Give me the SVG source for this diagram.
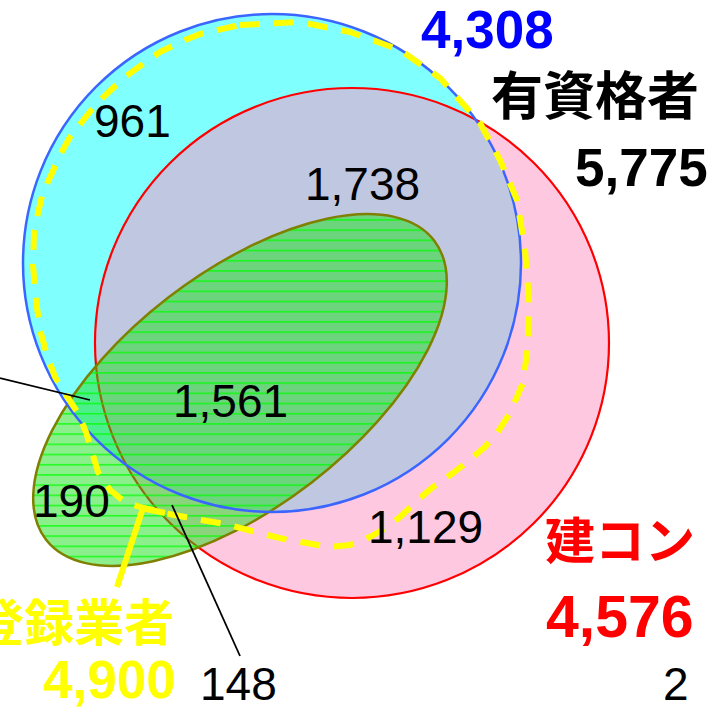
<svg xmlns="http://www.w3.org/2000/svg" width="707" height="710" viewBox="0 0 707 710">
<defs>
<style>
.num{font-family:"Liberation Sans",Arial,sans-serif;font-size:46px;fill:#000}
.bnum{font-family:"Liberation Sans",Arial,sans-serif;font-weight:bold;font-size:53px}
.cjk{font-family:"Liberation Sans","Noto Sans CJK JP",sans-serif;font-weight:bold;font-size:52px}
.lead{fill:none;stroke:#000;stroke-width:1.8}
</style>
<pattern id="stripes" patternUnits="userSpaceOnUse" x="0" y="229.3" width="20" height="10.2">
<rect x="0" y="0" width="20" height="1.6" fill="#00ff00" fill-opacity="0.75"/>
</pattern>
<clipPath id="greenClip">
<ellipse cx="240" cy="390" rx="245" ry="117" transform="rotate(-37.6 240 390)"/>
</clipPath>
</defs>
<rect width="707" height="710" fill="#ffffff"/>

<g id="yushikaku-fill">
<circle cx="272" cy="263" r="249" fill="#80ffff"/>
</g>
<g id="kensetsu-con">
<ellipse cx="352" cy="343" rx="257" ry="255" fill="#ff91c3" fill-opacity="0.5"/>
<ellipse cx="352" cy="343" rx="257" ry="255" fill="none" stroke="#ff0000" stroke-width="2.2"/>
</g>
<g id="green-set">
<ellipse cx="240" cy="390" rx="245" ry="117" transform="rotate(-37.6 240 390)" fill="#18e018" fill-opacity="0.5"/>
<rect x="0" y="200" width="480" height="400" fill="url(#stripes)" clip-path="url(#greenClip)"/>
<ellipse cx="240" cy="390" rx="245" ry="117" transform="rotate(-37.6 240 390)" fill="none" stroke="#808000" stroke-width="2.5"/>
</g>
<g id="yushikaku">
<circle cx="272" cy="263" r="249" fill="none" stroke="#3a66ff" stroke-width="2.5"/>
</g>
<g id="touroku">
<path d="M240,25 L300,22 L350,32 L400,50 L440,78 L480,123 L500,160 L517,200 L525,250 L529,300 L528,345 L523,383 L510,413 L497,433 L485,447 L467,462 L453,473 L433,487 L420,498 L400,517 L387,527 L370,537 L350,545 L328,547 L307,543 L288,540 L267,535 L248,530 L225,524 L207,521 L185,517 L163,513 L143,508 L125,502 L110,490 L98,472 L92,452 L86,432 L78,413 L66,395 L55,377 L47,355 L40,330 L36,300 L33,265 L34,233 L38,213 L43,192 L52,173 L60,155 L70,137 L85,118 L97,103 L113,88 L125,77 L147,61 L160,52 L185,40 L200,34 Z" fill="none" stroke="#ffff00" stroke-width="6" stroke-dasharray="20 14" stroke-linejoin="round"/>
</g>

<g id="connectors">
<line class="lead" x1="0" y1="378" x2="90" y2="400"/>
<line class="lead" x1="172" y1="505" x2="240" y2="656"/>
<polyline points="117,587 143,508 165,513" fill="none" stroke="#ffff00" stroke-width="6" stroke-linejoin="miter"/>
</g>

<g id="labels">
<text class="num" x="94" y="137">961</text>
<text class="num" x="305" y="200">1,738</text>
<text class="num" x="173" y="417">1,561</text>
<text class="num" x="33" y="517">190</text>
<text class="num" x="368" y="543">1,129</text>
<text class="num" x="200" y="700">148</text>
<text class="num" x="663" y="700">2</text>
</g>

<g id="title-yushikaku">
<text class="bnum" x="421" y="48" fill="#0000ff">4,308</text>
<text class="cjk" x="699" y="115" text-anchor="end" fill="#000">有資格者</text>
<text class="bnum" x="575" y="186" fill="#000">5,775</text>
</g>
<g id="title-kensetsu">
<text class="cjk" x="545" y="559" fill="#ff0000" style="font-size:50px">建コン</text>
<text class="bnum" x="546" y="637" fill="#ff0000" style="font-size:59px">4,576</text>
</g>
<g id="title-touroku">
<text class="cjk" x="174" y="641" text-anchor="end" fill="#ffff00" style="font-size:50px">登録業者</text>
<text class="bnum" x="43" y="698" fill="#ffff00">4,900</text>
</g>
</svg>
